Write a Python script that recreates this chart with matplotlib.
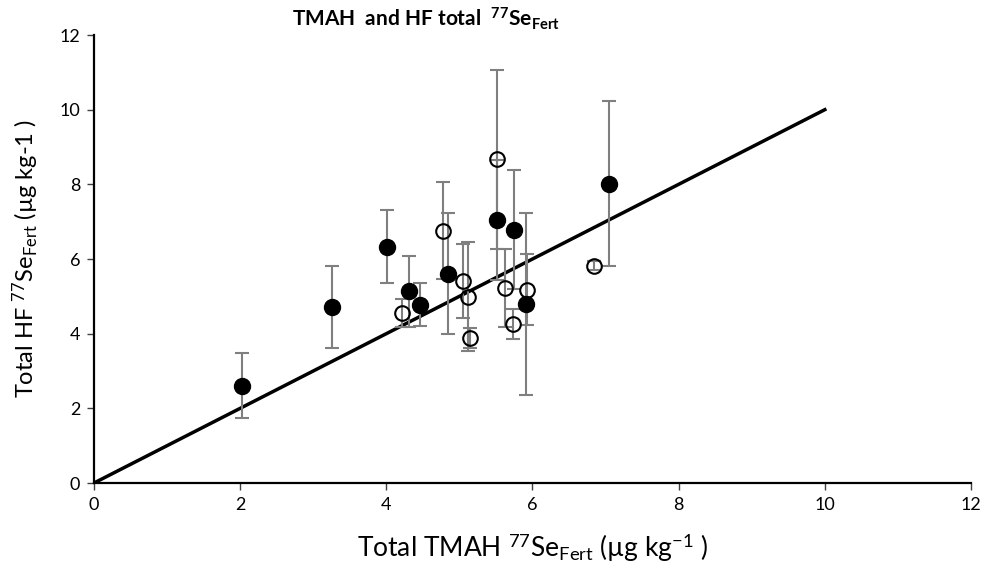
import matplotlib
matplotlib.use("Agg")
import matplotlib.pyplot as plt

plt.rcParams['font.family'] = ['Lato', 'DejaVu Sans']
plt.rcParams['mathtext.fontset'] = 'custom'
plt.rcParams['mathtext.rm'] = 'Lato'
plt.rcParams['mathtext.it'] = 'Lato:italic'
plt.rcParams['mathtext.bf'] = 'Lato:bold'

# Filled circles
filled_x = [2.03, 3.25, 4.01, 4.31, 4.46, 4.84, 5.52, 5.75, 5.91, 7.05]
filled_y = [2.60, 4.71, 6.33, 5.13, 4.78, 5.60, 7.05, 6.79, 4.79, 8.02]
filled_err = [0.87, 1.10, 0.97, 0.96, 0.57, 1.62, 1.60, 1.60, 2.44, 2.22]

# Open circles
open_x = [4.22, 4.78, 5.05, 5.12, 5.14, 5.52, 5.62, 5.74, 5.93, 6.84]
open_y = [4.56, 6.76, 5.41, 4.99, 3.88, 8.67, 5.23, 4.25, 5.18, 5.82]
open_err = [0.37, 1.29, 1.00, 1.46, 0.26, 2.40, 1.04, 0.40, 0.95, 0.12]

# 1:1 line
line_x = [0, 10]
line_y = [0, 10]

xticks = [0, 2, 4, 6, 8, 10, 12]
yticks = [0, 2, 4, 6, 8, 10, 12]

fig = plt.figure(figsize=(9.87, 5.76), dpi=100)
ax = fig.add_axes([94/987, 1-483/576, (971-94)/987, (483-35)/576])

ax.plot(line_x, line_y, color='black', lw=2.5, zorder=2)

ax.errorbar(filled_x, filled_y, yerr=filled_err, fmt='none', ecolor='#7f7f7f',
            elinewidth=1.5, capsize=5, capthick=1.5, zorder=3)
ax.errorbar(open_x, open_y, yerr=open_err, fmt='none', ecolor='#7f7f7f',
            elinewidth=1.5, capsize=5, capthick=1.5, zorder=3)

ax.plot(open_x, open_y, 'o', markerfacecolor='none', markeredgecolor='black',
        markeredgewidth=1.5, markersize=10.5, linestyle='none', zorder=4)
ax.plot(filled_x, filled_y, 'o', color='black', markersize=11.5,
        linestyle='none', zorder=5)

ax.set_xlim(0, 12)
ax.set_ylim(0, 12)
ax.set_xticks(xticks)
ax.set_yticks(yticks)
ax.tick_params(direction='out', length=5, width=1, labelsize=13, color='#404040', pad=5)
for s in ['top', 'right']:
    ax.spines[s].set_visible(False)
for s in ['left', 'bottom']:
    ax.spines[s].set_linewidth(1.6)
    ax.spines[s].set_color('black')

ax.set_xlabel(r'Total TMAH $^{77}$Se$_{\mathrm{Fert}}$ (µg kg$^{-1}$ )', fontsize=19, labelpad=14)
ax.set_ylabel(r'Total HF $^{77}$Se$_{\mathrm{Fert}}$ (µg kg-1 )', fontsize=17, labelpad=13)

fig.text(426/987, 1-19/576, r'TMAH  and HF total  $^{\mathbf{77}}$Se$_{\mathbf{Fert}}$',
         ha='center', va='center', fontsize=15, fontweight='bold')

fig.savefig('out.png', dpi=100)
